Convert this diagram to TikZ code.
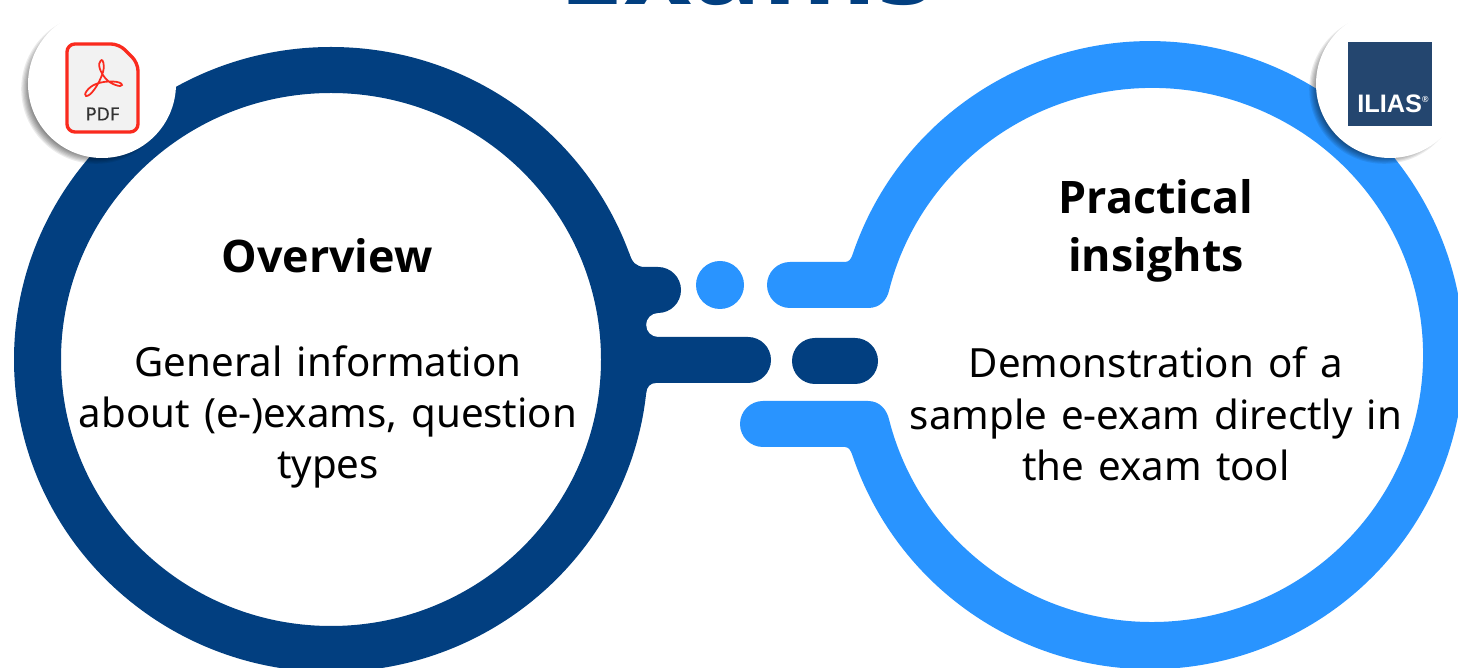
\documentclass[tikz,border=0pt]{standalone}
\usepackage{fontspec}
\setmainfont{Noto Sans}[WordSpace=1.35]
\newfontfamily\headf{Open Sans}
\newfontfamily\arialf{Liberation Sans}
\newfontfamily\pdff[FakeBold=0.4]{Noto Sans}
\definecolor{darkblue}{HTML}{023F80}
\definecolor{lightblue}{HTML}{2994FF}
\definecolor{iliasblue}{HTML}{24466F}
\definecolor{pdfred}{HTML}{FA2A1E}
\newcommand{\fs}[1]{\fontsize{#1}{#1}\selectfont}
\begin{document}
\begin{tikzpicture}[x=0.02cm,y=-0.02cm,
  head/.style={font=\headf\bfseries\fontsize{25.5}{33.4}\selectfont,text=black,align=center,inner sep=0pt},
  body/.style={font=\fontsize{22.9}{29.2}\selectfont,text=black,align=center,inner sep=0pt},
  badge/.style={fill=white},
  ]
\useasboundingbox (0,0) rectangle (1458,668);
\clip (0,0) rectangle (1458,668);
\fill[white] (0,0) rectangle (1458,668);
% title
\node[font=\headf\bfseries\fs{66.5},text=darkblue,anchor=base,inner sep=0pt] (title) at (747,5) {Exams};
% dark shape
\fill[darkblue] (610,253) -- (629,253) .. controls (632,262) and (636,267) .. (645,267)
  -- (658,267) arc[start angle=-90,end angle=90,radius=23]
  arc[start angle=-90,end angle=-270,radius=12]
  -- (748,337) arc[start angle=-90,end angle=90,radius=23]
  -- (656,383) .. controls (650,383) and (647,387) .. (646,393) -- (610,393) -- cycle;
\fill[darkblue,even odd rule] (331,359.5) ellipse[x radius=317,y radius=312.5] (331,359.5) ellipse[x radius=270,y radius=266.5];
% light shape
\fill[lightblue] (790,262) -- (845,262) .. controls (849,262) and (851,259) .. (852.4,255)
  arc[start angle=-161.4,end angle=161.4,radius=314]
  .. controls (851,451) and (849,447) .. (845,447)
  -- (763,447) arc[start angle=90,end angle=270,radius=23]
  -- (868,401) .. controls (880,401) and (887,410) .. (889.2,420)
  arc[start angle=165.9,end angle=-165.9,x radius=271,y radius=267]
  .. controls (887,300) and (880,308) .. (868,308)
  -- (790,308) arc[start angle=90,end angle=270,radius=23] -- cycle;
% dots
\fill[lightblue] (720,285) circle[radius=24];
\fill[darkblue] (815,338) -- (855,338) arc[start angle=-90,end angle=90,radius=23] -- (815,384) arc[start angle=90,end angle=270,radius=23] -- cycle;
% badge shadows
\foreach \cx/\cy in {102/84,1390/84}{
  \foreach \i in {0,...,9}{
    \fill[black,opacity=0.08] (\cx-6,\cy+5) circle[radius=64+\i*1.2];
  }
  \fill[badge] (\cx,\cy) circle[radius=74];
}
% pdf icon
\draw[pdfred,line width=1.9pt,fill=white!95!black,rounded corners=4.5pt,line join=round]
  (67,44) -- (119,44) -- (138,63) -- (138,132) -- (67,132) -- cycle;
\draw[pdfred,line width=1pt] (101,60) .. controls (97,64) and (100,72) .. (106,79)
  .. controls (110,84) and (122,88) .. (122,85)
  .. controls (122,81) and (106,80) .. (96,84)
  .. controls (88,87) and (83,95) .. (86,96)
  .. controls (90,97) and (99,85) .. (103,72)
  .. controls (105,65) and (103,59) .. (101,60);
\node[font=\pdff\fs{10.3},text=black!80,inner sep=0pt] (pdf) at (102.5,114) {PDF};
% ilias icon
\fill[iliasblue] (1348,42) rectangle (1432,126);
\node[font=\arialf\fs{14.4}\bfseries,text=white,anchor=base west,inner sep=0pt] (ilias) at (1357,112.5) {ILIAS\raisebox{5.6pt}{\fs{5}®}};
% texts
\node[head] (ovh) at (327,256) {Overview};
\node[body] (ovb) at (328,417) {General information\\about (e-)exams, question\\types};
\node[head] (prh) at (1156,231) {Practical\\insights};
\node[body] (prb) at (1156,414) {Demonstration of a\\sample e-exam directly in\\the exam tool};
\end{tikzpicture}
\end{document}
